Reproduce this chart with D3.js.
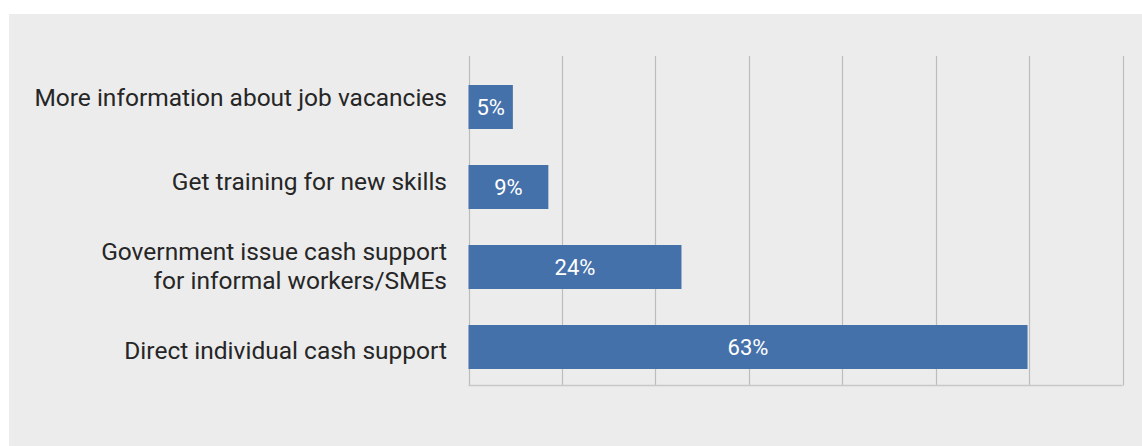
<!DOCTYPE html>
<html>
<head>
<meta charset="utf-8">
<script src="https://cdn.jsdelivr.net/npm/d3@7"></script>
<style>
  html, body { margin: 0; padding: 0; background: #ffffff; }
  svg { display: block; }
  text { font-family: Roboto, "Noto Sans", sans-serif; }
</style>
</head>
<body>
<svg id="chart" width="1142" height="446"></svg>
<script>
// Survey responses: preferred forms of support
const categories = [
  ["More information about job vacancies"],
  ["Get training for new skills"],
  ["Government issue cash support", "for informal workers/SMEs"],
  ["Direct individual cash support"]
];
const values = [5, 9, 24, 63];
const valueLabels = ["5%", "9%", "24%", "63%"];
const gridCount = 7;
const xMax = 73.7;

const svg = d3.select("#chart");
const W = 1142, H = 446;

// panel background
svg.append("rect")
  .attr("x", 9).attr("y", 14)
  .attr("width", W - 9).attr("height", H - 14)
  .attr("fill", "#ececec");

const keys = categories.map(c => c.join(" "));

const x = d3.scaleLinear().domain([0, xMax]).range([468.5, 1122.5]);
const y = d3.scaleBand().domain(keys).range([67, 387])
  .paddingInner(0.45).paddingOuter(0.225);
const yLabel = d3.scalePoint().domain(keys).range([97, 350]);

const plotTop = 56, plotBottom = 385.5;

// vertical gridlines
const gridVals = d3.range(0, gridCount + 1).map(i => xMax * i / gridCount);
svg.append("g").selectAll("line")
  .data(gridVals)
  .join("line")
  .attr("x1", d => Math.round(x(d)) + 0.5)
  .attr("x2", d => Math.round(x(d)) + 0.5)
  .attr("y1", plotTop).attr("y2", plotBottom)
  .attr("stroke", "#bdbdbd").attr("stroke-width", 1.2);

// bottom axis line
svg.append("line")
  .attr("x1", x(0)).attr("x2", x(xMax))
  .attr("y1", plotBottom).attr("y2", plotBottom)
  .attr("stroke", "#c8c8c8").attr("stroke-width", 1.5);

// bars
svg.append("g").selectAll("rect")
  .data(values)
  .join("rect")
  .attr("x", x(0))
  .attr("y", (d, i) => y(keys[i]))
  .attr("width", d => x(d) - x(0))
  .attr("height", y.bandwidth())
  .attr("fill", "#4571ab");

// value labels inside bars
svg.append("g").selectAll("text")
  .data(values)
  .join("text")
  .attr("x", d => (x(0) + x(d)) / 2)
  .attr("y", (d, i) => y(keys[i]) + y.bandwidth() / 2)
  .attr("dy", "0.35em")
  .attr("text-anchor", "middle")
  .attr("fill", "#ffffff")
  .attr("font-size", 22)
  .text((d, i) => valueLabels[i]);

// category labels
const lineH = 29;
const labels = svg.append("g").selectAll("text")
  .data(categories)
  .join("text")
  .attr("text-anchor", "end")
  .attr("fill", "#262626")
  .attr("font-size", 24.5)
  .attr("transform", (d, i) => `translate(447,${yLabel(keys[i])})`);
labels.selectAll("tspan")
  .data(d => d.map((t, j) => ({ t, j, n: d.length })))
  .join("tspan")
  .attr("x", 0)
  .attr("y", d => (d.j - (d.n - 1) / 2) * lineH)
  .attr("dy", "0.36em")
  .text(d => d.t);
</script>
</body>
</html>
